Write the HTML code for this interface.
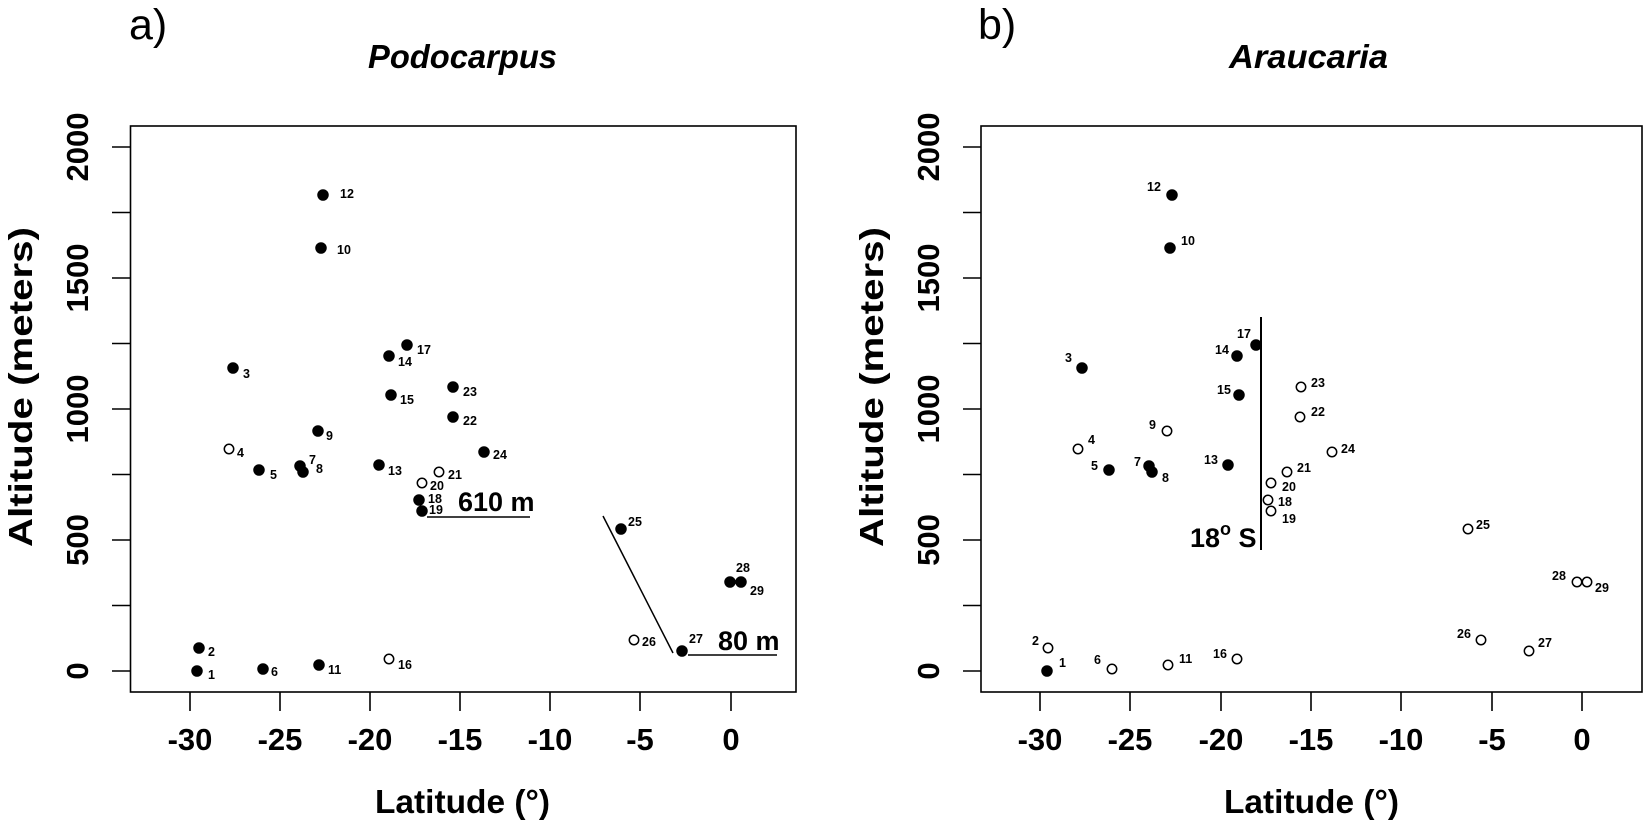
<!DOCTYPE html>
<html><head><meta charset="utf-8"><style>body{margin:0;background:#fff}svg{display:block}</style></head><body>
<svg width="1645" height="824" xmlns="http://www.w3.org/2000/svg" font-family="Liberation Sans, Arial, sans-serif">
<g fill="#000">
<!-- Panel a -->
<text x="129" y="39" font-size="43">a)</text>
<text x="368" y="68" font-size="33" font-weight="bold" font-style="italic" textLength="189" lengthAdjust="spacingAndGlyphs">Podocarpus</text>
<rect x="130.5" y="126" width="665.5" height="566" fill="none" stroke="#000" stroke-width="1.6"/>
<g stroke="#000" stroke-width="1.6">
<line x1="130" y1="671" x2="112" y2="671"/><line x1="130" y1="605.5" x2="112" y2="605.5"/><line x1="130" y1="540" x2="112" y2="540"/><line x1="130" y1="474.5" x2="112" y2="474.5"/><line x1="130" y1="409" x2="112" y2="409"/><line x1="130" y1="343.5" x2="112" y2="343.5"/><line x1="130" y1="278" x2="112" y2="278"/><line x1="130" y1="212.5" x2="112" y2="212.5"/><line x1="130" y1="147" x2="112" y2="147"/>
<line x1="190" y1="692" x2="190" y2="711"/><line x1="280" y1="692" x2="280" y2="711"/><line x1="370" y1="692" x2="370" y2="711"/><line x1="460" y1="692" x2="460" y2="711"/><line x1="550" y1="692" x2="550" y2="711"/><line x1="640" y1="692" x2="640" y2="711"/><line x1="731" y1="692" x2="731" y2="711"/>
</g>
<g font-size="31" font-weight="bold" text-anchor="middle">
<text transform="translate(88,671) rotate(-90)">0</text><text transform="translate(88,540) rotate(-90)">500</text><text transform="translate(88,409) rotate(-90)">1000</text><text transform="translate(88,278) rotate(-90)">1500</text><text transform="translate(88,147) rotate(-90)">2000</text>
<text x="190" y="750">-30</text><text x="280" y="750">-25</text><text x="370" y="750">-20</text><text x="460" y="750">-15</text><text x="550" y="750">-10</text><text x="640" y="750">-5</text><text x="731" y="750">0</text>
</g>
<text transform="translate(32,387) rotate(-90)" font-size="33" font-weight="bold" text-anchor="middle" textLength="320" lengthAdjust="spacingAndGlyphs">Altitude (meters)</text>
<text x="375" y="813" font-size="33" font-weight="bold" textLength="175" lengthAdjust="spacingAndGlyphs">Latitude (°)</text>

<!-- Panel b -->
<text x="978" y="39" font-size="43">b)</text>
<text x="1229" y="68" font-size="33" font-weight="bold" font-style="italic" textLength="159" lengthAdjust="spacingAndGlyphs">Araucaria</text>
<rect x="981" y="126" width="661" height="566" fill="none" stroke="#000" stroke-width="1.6"/>
<g stroke="#000" stroke-width="1.6">
<line x1="981" y1="671" x2="963" y2="671"/><line x1="981" y1="605.5" x2="963" y2="605.5"/><line x1="981" y1="540" x2="963" y2="540"/><line x1="981" y1="474.5" x2="963" y2="474.5"/><line x1="981" y1="409" x2="963" y2="409"/><line x1="981" y1="343.5" x2="963" y2="343.5"/><line x1="981" y1="278" x2="963" y2="278"/><line x1="981" y1="212.5" x2="963" y2="212.5"/><line x1="981" y1="147" x2="963" y2="147"/>
<line x1="1040" y1="692" x2="1040" y2="711"/><line x1="1130" y1="692" x2="1130" y2="711"/><line x1="1221" y1="692" x2="1221" y2="711"/><line x1="1311" y1="692" x2="1311" y2="711"/><line x1="1401" y1="692" x2="1401" y2="711"/><line x1="1492" y1="692" x2="1492" y2="711"/><line x1="1582" y1="692" x2="1582" y2="711"/>
</g>
<g font-size="31" font-weight="bold" text-anchor="middle">
<text transform="translate(939,671) rotate(-90)">0</text><text transform="translate(939,540) rotate(-90)">500</text><text transform="translate(939,409) rotate(-90)">1000</text><text transform="translate(939,278) rotate(-90)">1500</text><text transform="translate(939,147) rotate(-90)">2000</text>
<text x="1040" y="750">-30</text><text x="1130" y="750">-25</text><text x="1221" y="750">-20</text><text x="1311" y="750">-15</text><text x="1401" y="750">-10</text><text x="1492" y="750">-5</text><text x="1582" y="750">0</text>
</g>
<text transform="translate(883,387) rotate(-90)" font-size="33" font-weight="bold" text-anchor="middle" textLength="320" lengthAdjust="spacingAndGlyphs">Altitude (meters)</text>
<text x="1224" y="813" font-size="33" font-weight="bold" textLength="175" lengthAdjust="spacingAndGlyphs">Latitude (°)</text>
</g>

<!-- Panel a points -->
<g stroke="#000" stroke-width="1.5">
<g fill="#000">
<circle cx="197" cy="671" r="5"/><circle cx="199" cy="648" r="5"/><circle cx="233" cy="368" r="5"/><circle cx="259" cy="470" r="5"/><circle cx="263" cy="669" r="5"/><circle cx="300" cy="466" r="5"/><circle cx="303" cy="472" r="5"/><circle cx="318" cy="431" r="5"/><circle cx="321" cy="248" r="5"/><circle cx="319" cy="665" r="5"/><circle cx="323" cy="195" r="5"/><circle cx="379" cy="465" r="5"/><circle cx="389" cy="356" r="5"/><circle cx="391" cy="395" r="5"/><circle cx="407" cy="345" r="5"/><circle cx="419" cy="500" r="5"/><circle cx="422" cy="511" r="5"/><circle cx="453" cy="417" r="5"/><circle cx="453" cy="387" r="5"/><circle cx="484" cy="452" r="5"/><circle cx="621" cy="529" r="5"/><circle cx="682" cy="651" r="5"/><circle cx="730" cy="582" r="5"/><circle cx="741" cy="582" r="5"/>
</g>
<g fill="#fff">
<circle cx="229" cy="449" r="4.7"/><circle cx="389" cy="659" r="4.7"/><circle cx="422" cy="483" r="4.7"/><circle cx="439" cy="472" r="4.7"/><circle cx="634" cy="640" r="4.7"/>
</g>
<line x1="427" y1="517" x2="530" y2="517"/>
<line x1="603" y1="516" x2="673" y2="653"/>
<line x1="688" y1="655" x2="777" y2="655"/>
</g>
<g font-size="12.5" font-weight="bold">
<text x="208" y="679">1</text><text x="208" y="656">2</text><text x="243" y="378">3</text><text x="237" y="457">4</text><text x="270" y="479">5</text><text x="271" y="676">6</text><text x="309" y="464">7</text><text x="316" y="473">8</text><text x="326" y="440">9</text><text x="337" y="254">10</text><text x="328" y="674">11</text><text x="340" y="198">12</text><text x="388" y="475">13</text><text x="398" y="366">14</text><text x="400" y="404">15</text><text x="398" y="669">16</text><text x="417" y="354">17</text><text x="428" y="503">18</text><text x="429" y="514">19</text><text x="430" y="490">20</text><text x="448" y="479">21</text><text x="463" y="425">22</text><text x="463" y="396">23</text><text x="493" y="459">24</text><text x="628" y="526">25</text><text x="642" y="646">26</text><text x="689" y="643">27</text><text x="736" y="572">28</text><text x="750" y="595">29</text>
</g>
<text x="458" y="511" font-size="27" font-weight="bold">610 m</text>
<text x="718" y="650" font-size="27" font-weight="bold">80 m</text>

<!-- Panel b points -->
<g stroke="#000" stroke-width="1.5">
<g fill="#000">
<circle cx="1047" cy="671" r="5"/><circle cx="1082" cy="368" r="5"/><circle cx="1109" cy="470" r="5"/><circle cx="1149" cy="466" r="5"/><circle cx="1152" cy="472" r="5"/><circle cx="1170" cy="248" r="5"/><circle cx="1172" cy="195" r="5"/><circle cx="1228" cy="465" r="5"/><circle cx="1237" cy="356" r="5"/><circle cx="1239" cy="395" r="5"/><circle cx="1256" cy="345" r="5"/>
</g>
<g fill="#fff">
<circle cx="1048" cy="648" r="4.7"/><circle cx="1078" cy="449" r="4.7"/><circle cx="1112" cy="669" r="4.7"/><circle cx="1167" cy="431" r="4.7"/><circle cx="1168" cy="665" r="4.7"/><circle cx="1237" cy="659" r="4.7"/><circle cx="1268" cy="500" r="4.7"/><circle cx="1271" cy="511" r="4.7"/><circle cx="1271" cy="483" r="4.7"/><circle cx="1287" cy="472" r="4.7"/><circle cx="1300" cy="417" r="4.7"/><circle cx="1301" cy="387" r="4.7"/><circle cx="1332" cy="452" r="4.7"/><circle cx="1468" cy="529" r="4.7"/><circle cx="1481" cy="640" r="4.7"/><circle cx="1529" cy="651" r="4.7"/><circle cx="1577" cy="582" r="4.7"/><circle cx="1587" cy="582" r="4.7"/>
</g>
<line x1="1261" y1="317" x2="1261" y2="550" stroke-width="2"/>
</g>
<g font-size="12.5" font-weight="bold">
<text x="1059" y="667">1</text><text x="1032" y="645">2</text><text x="1065" y="362">3</text><text x="1088" y="444">4</text><text x="1091" y="470">5</text><text x="1094" y="664">6</text><text x="1134" y="466">7</text><text x="1162" y="482">8</text><text x="1149" y="429">9</text><text x="1181" y="245">10</text><text x="1179" y="663">11</text><text x="1147" y="191">12</text><text x="1204" y="464">13</text><text x="1215" y="354">14</text><text x="1217" y="394">15</text><text x="1213" y="658">16</text><text x="1237" y="338">17</text><text x="1278" y="506">18</text><text x="1282" y="523">19</text><text x="1282" y="491">20</text><text x="1297" y="472">21</text><text x="1311" y="416">22</text><text x="1311" y="387">23</text><text x="1341" y="453">24</text><text x="1476" y="529">25</text><text x="1457" y="638">26</text><text x="1538" y="647">27</text><text x="1552" y="580">28</text><text x="1595" y="592">29</text>
</g>
<text x="1190" y="547" font-size="27" font-weight="bold">18<tspan font-size="18" dy="-12">o</tspan><tspan dy="12"> S</tspan></text>
</svg>
</body></html>
